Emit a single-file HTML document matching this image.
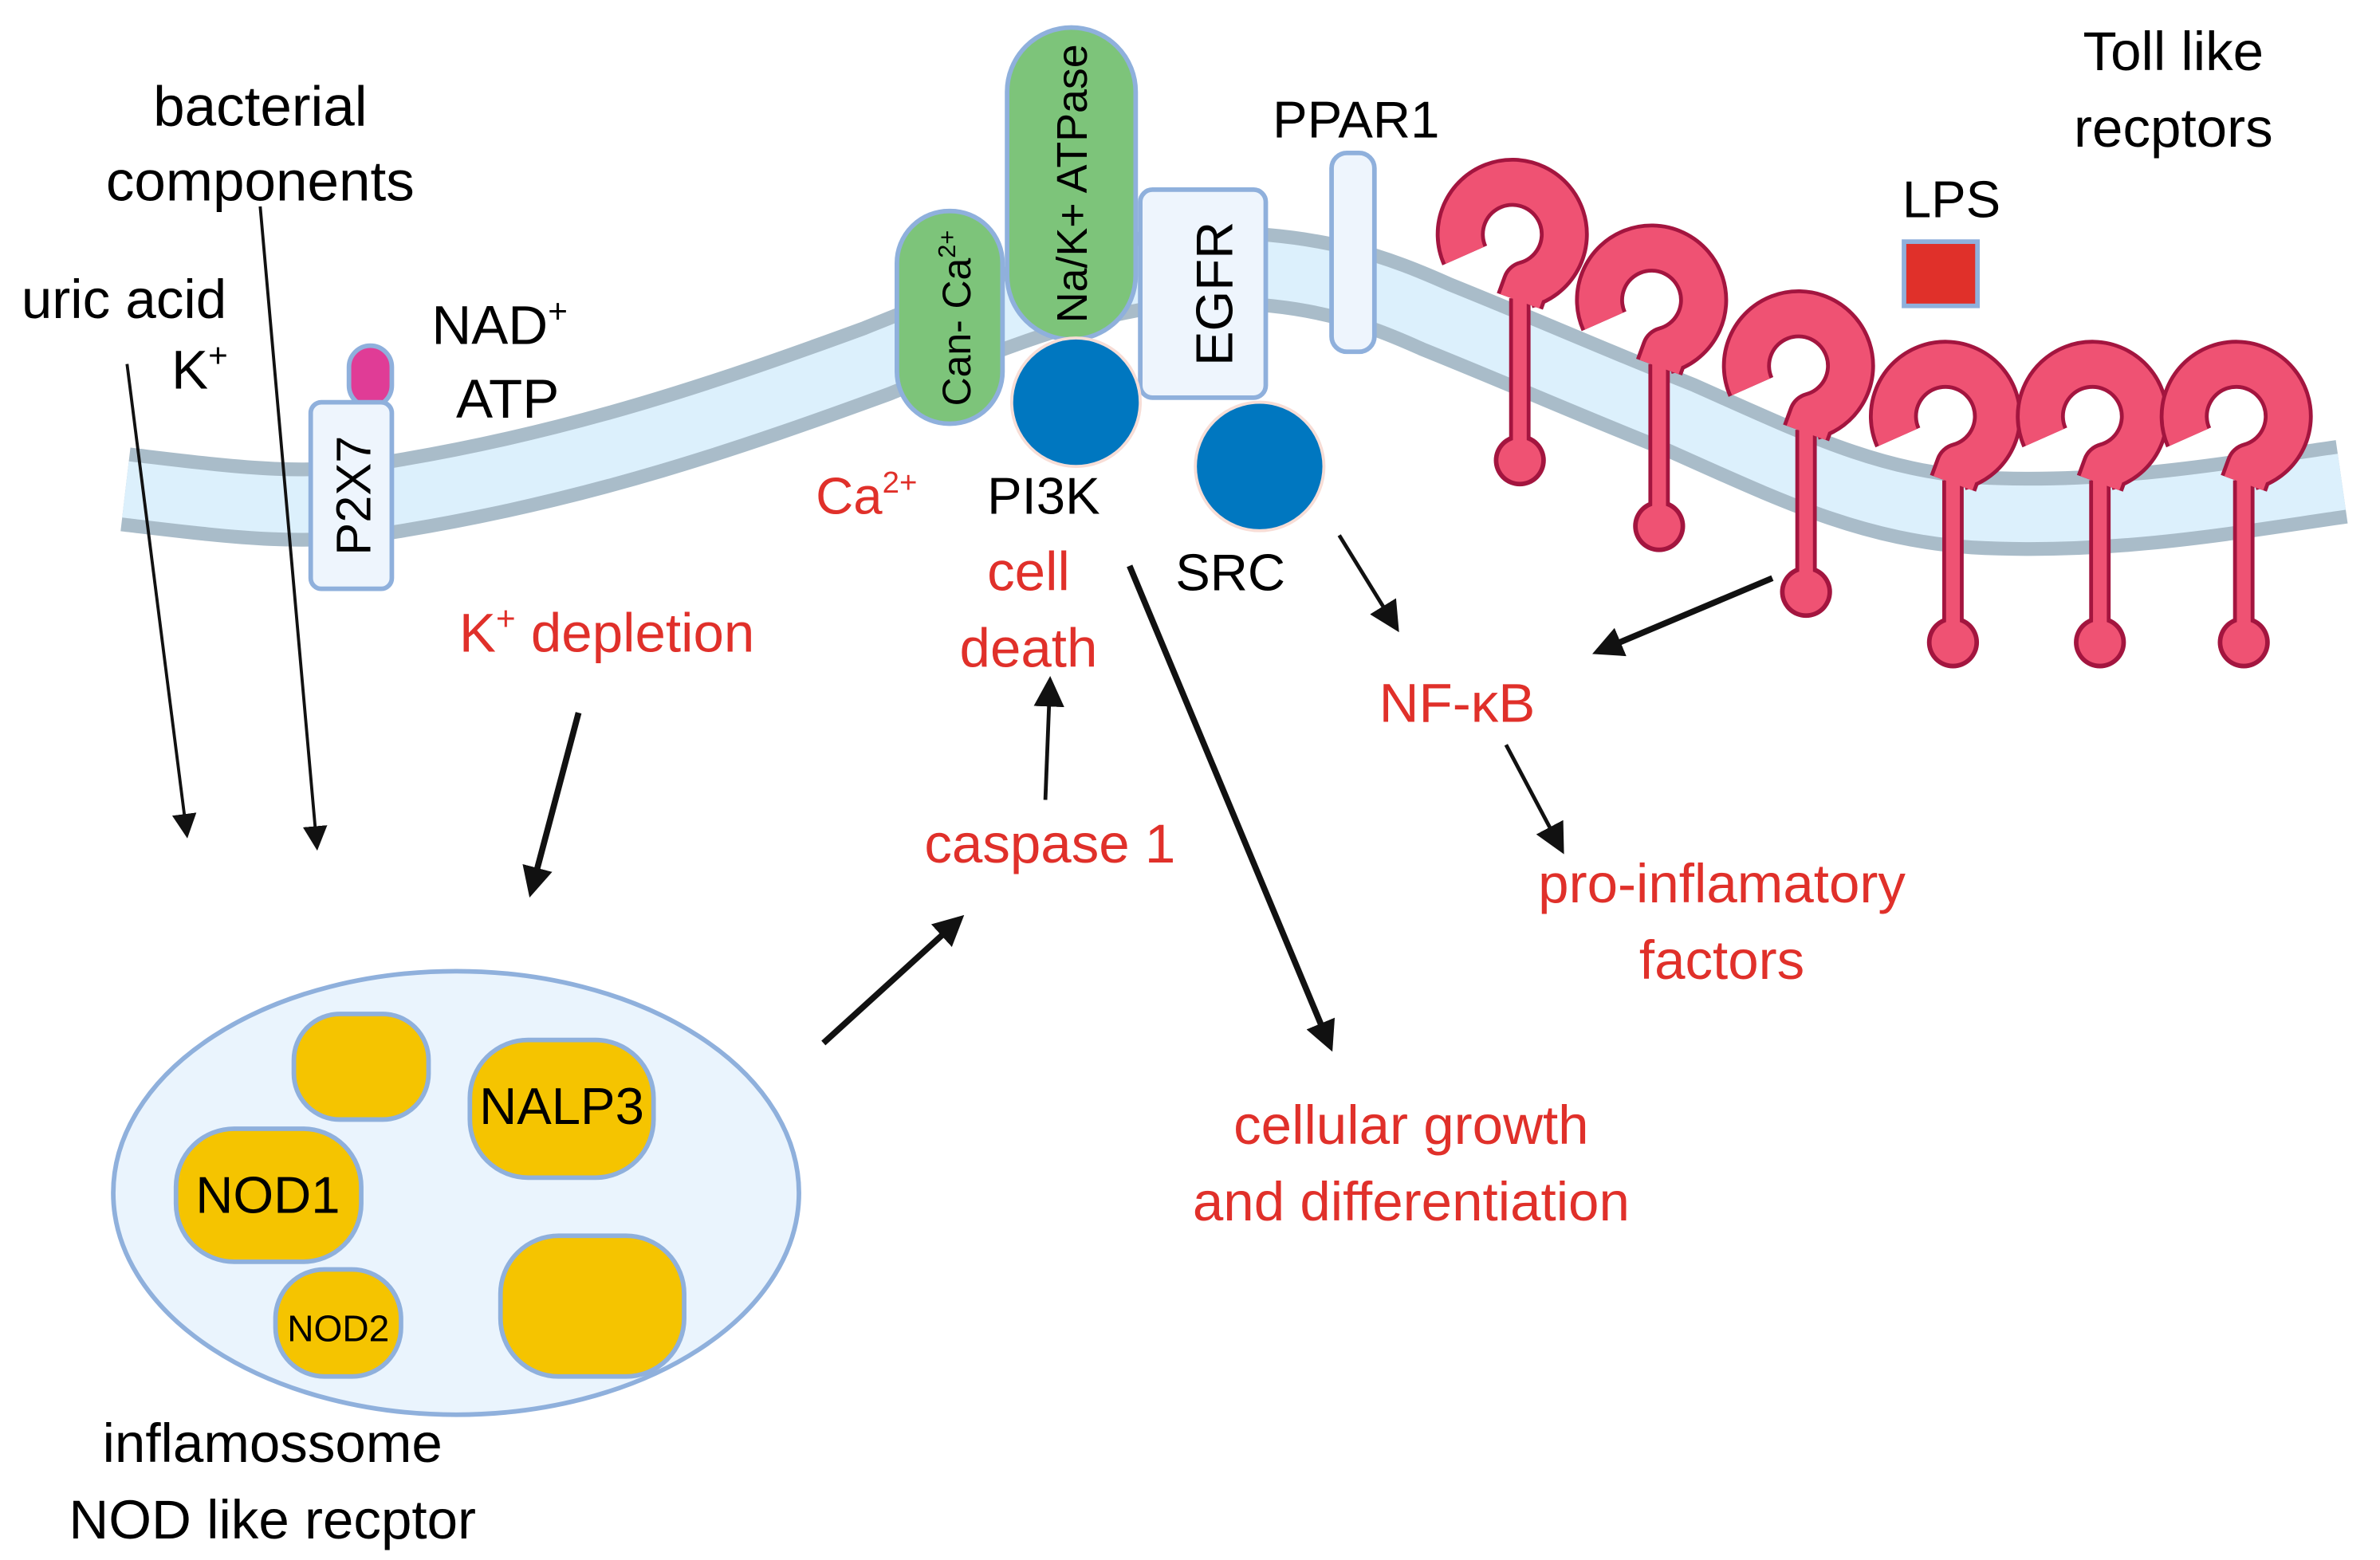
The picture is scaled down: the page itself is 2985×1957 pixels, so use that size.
<!DOCTYPE html>
<html><head><meta charset="utf-8"><style>
html,body{margin:0;padding:0;background:#fff}
svg{display:block}
text{font-family:"Liberation Sans",sans-serif}
</style></head><body>
<svg width="2985" height="1957" viewBox="0 0 1555 1020" preserveAspectRatio="none" xmlns="http://www.w3.org/2000/svg">
<defs>
<marker id="ah" viewBox="0 0 10 10" refX="8" refY="5" markerWidth="5" markerHeight="5" orient="auto" markerUnits="strokeWidth"><path d="M0,0 L10,5 L0,10 z" fill="#111"/></marker>
<marker id="ahs" viewBox="0 0 10 10" refX="8" refY="5" markerWidth="8" markerHeight="8" orient="auto" markerUnits="strokeWidth"><path d="M0,0 L10,5 L0,10 z" fill="#111"/></marker>
<g id="tlr">
<path d="M-30,14 A34,34 0 1 1 10,33 L6,44" fill="none" stroke="#a3153f" stroke-width="32" stroke-linejoin="round"/>
<line x1="6" y1="42" x2="6" y2="140" stroke="#a3153f" stroke-width="14"/>
<circle cx="6" cy="148" r="17" fill="#a3153f"/>
<path d="M-30,14 A34,34 0 1 1 10,33 L6,44" fill="none" stroke="#ef5273" stroke-width="27" stroke-linejoin="round"/>
<line x1="6" y1="42" x2="6" y2="140" stroke="#ef5273" stroke-width="9"/>
<circle cx="6" cy="148" r="14" fill="#ef5273"/>
</g>
</defs>
<rect width="1555" height="1020" fill="#fff"/>
<path d="M82,320 C150,328 200,335 255,325 C380,305 480,270 573,236 C650,205 720,176 790,175 C860,175 900,190 938,207 C1000,232 1040,250 1098,273 C1170,305 1220,330 1290,335 C1380,340 1460,325 1530,315" fill="none" stroke="#a9bcc9" stroke-width="55"/>
<path d="M82,320 C150,328 200,335 255,325 C380,305 480,270 573,236 C650,205 720,176 790,175 C860,175 900,190 938,207 C1000,232 1040,250 1098,273 C1170,305 1220,330 1290,335 C1380,340 1460,325 1530,315" fill="none" stroke="#dcf0fc" stroke-width="37"/>

<use href="#tlr" transform="translate(987,153)"/>
<use href="#tlr" transform="translate(1078,196)"/>
<use href="#tlr" transform="translate(1174,239)"/>
<use href="#tlr" transform="translate(1270,272)"/>
<use href="#tlr" transform="translate(1366,272)"/>
<use href="#tlr" transform="translate(1460,272)"/>

<rect x="1244" y="158" width="48" height="42" fill="#e0302a" stroke="#8fb0dc" stroke-width="3"/>
<text x="1275" y="142" font-size="34" text-anchor="middle">LPS</text>
<text x="1420" y="46" font-size="36" text-anchor="middle">Toll like</text>
<text x="1420" y="96" font-size="36" text-anchor="middle">recptors</text>

<rect x="870" y="100" width="28" height="130" rx="10" fill="#eef5fd" stroke="#8fb0dc" stroke-width="3"/>
<text x="886" y="90" font-size="34" text-anchor="middle">PPAR1</text>

<rect x="745" y="124" width="82" height="136" rx="8" fill="#eef5fd" stroke="#8fb0dc" stroke-width="3"/>
<text transform="translate(805,192) rotate(-90)" font-size="34" text-anchor="middle">EGFR</text>

<rect x="586" y="138" width="69" height="139" rx="34" fill="#7dc47a" stroke="#8fb0dc" stroke-width="3"/>
<text transform="translate(634,208) rotate(-90)" font-size="26" text-anchor="middle">Can- Ca<tspan font-size="16" dy="-10">2+</tspan></text>
<rect x="658" y="18" width="84" height="204" rx="42" fill="#7dc47a" stroke="#8fb0dc" stroke-width="3"/>
<text transform="translate(710,120) rotate(-90)" font-size="28" text-anchor="middle">Na/K+ ATPase</text>

<circle cx="703" cy="263" r="42" fill="#0077c0" stroke="#f7ddd6" stroke-width="2"/>
<circle cx="823" cy="305" r="42" fill="#0077c0" stroke="#f7ddd6" stroke-width="2"/>

<rect x="228" y="226" width="28" height="40" rx="14" fill="#e03c96" stroke="#8fb0dc" stroke-width="3"/>
<rect x="203" y="263" width="53" height="122" rx="7" fill="#eef5fd" stroke="#8fb0dc" stroke-width="3"/>
<text transform="translate(242,324) rotate(-90)" font-size="32" text-anchor="middle">P2X7</text>

<text x="170" y="82" font-size="37" text-anchor="middle">bacterial</text>
<text x="170" y="131" font-size="37" text-anchor="middle">components</text>
<text x="14" y="208" font-size="36">uric acid</text>
<text x="112" y="254" font-size="36">K<tspan font-size="22" dy="-14">+</tspan></text>
<text x="282" y="225" font-size="36">NAD<tspan font-size="22" dy="-14">+</tspan></text>
<text x="298" y="273" font-size="36">ATP</text>

<text x="533" y="336" font-size="34" fill="#e0302a">Ca<tspan font-size="20" dy="-14">2+</tspan></text>
<text x="645" y="336" font-size="34">PI3K</text>
<text x="672" y="386" font-size="36" fill="#e0302a" text-anchor="middle">cell</text>
<text x="672" y="436" font-size="36" fill="#e0302a" text-anchor="middle">death</text>
<text x="768" y="386" font-size="34">SRC</text>
<text x="300" y="426" font-size="36" fill="#e0302a">K<tspan font-size="22" dy="-14">+</tspan><tspan dy="14"> depletion</tspan></text>
<text x="686" y="564" font-size="36" fill="#e0302a" text-anchor="middle">caspase 1</text>
<text x="952" y="472" font-size="36" fill="#e0302a" text-anchor="middle">NF-κB</text>
<text x="1125" y="590" font-size="36" fill="#e0302a" text-anchor="middle">pro-inflamatory</text>
<text x="1125" y="640" font-size="36" fill="#e0302a" text-anchor="middle">factors</text>
<text x="922" y="748" font-size="36" fill="#e0302a" text-anchor="middle">cellular growth</text>
<text x="922" y="798" font-size="36" fill="#e0302a" text-anchor="middle">and differentiation</text>

<g stroke="#111" fill="none">
<line x1="83" y1="238" x2="122" y2="545" stroke-width="2" marker-end="url(#ahs)"/>
<line x1="170" y1="135" x2="207" y2="553" stroke-width="2" marker-end="url(#ahs)"/>
<line x1="378" y1="466" x2="347" y2="583" stroke-width="4" marker-end="url(#ah)"/>
<line x1="683" y1="523" x2="686" y2="446" stroke-width="2.5" marker-end="url(#ahs)"/>
<line x1="538" y1="682" x2="627" y2="601" stroke-width="4" marker-end="url(#ah)"/>
<line x1="738" y1="370" x2="869" y2="684" stroke-width="4" marker-end="url(#ah)"/>
<line x1="875" y1="350" x2="912" y2="410" stroke-width="2.5" marker-end="url(#ahs)"/>
<line x1="1158" y1="378" x2="1044" y2="426" stroke-width="4" marker-end="url(#ah)"/>
<line x1="984" y1="487" x2="1020" y2="555" stroke-width="2.5" marker-end="url(#ahs)"/>
</g>

<ellipse cx="298" cy="780" rx="224" ry="145" fill="#eaf4fd" stroke="#8fb0dc" stroke-width="3"/>
<g fill="#f5c400" stroke="#8fb0dc" stroke-width="3">
<rect x="192" y="663" width="88" height="69" rx="30"/>
<rect x="307" y="680" width="120" height="90" rx="38"/>
<rect x="115" y="738" width="121" height="87" rx="38"/>
<rect x="180" y="830" width="82" height="70" rx="32"/>
<rect x="327" y="808" width="120" height="92" rx="38"/>
</g>
<text x="367" y="735" font-size="34" text-anchor="middle">NALP3</text>
<text x="175" y="793" font-size="34" text-anchor="middle">NOD1</text>
<text x="221" y="877" font-size="24" text-anchor="middle">NOD2</text>
<text x="178" y="956" font-size="36" text-anchor="middle">inflamossome</text>
<text x="178" y="1006" font-size="36" text-anchor="middle">NOD like recptor</text>
</svg>
</body></html>
